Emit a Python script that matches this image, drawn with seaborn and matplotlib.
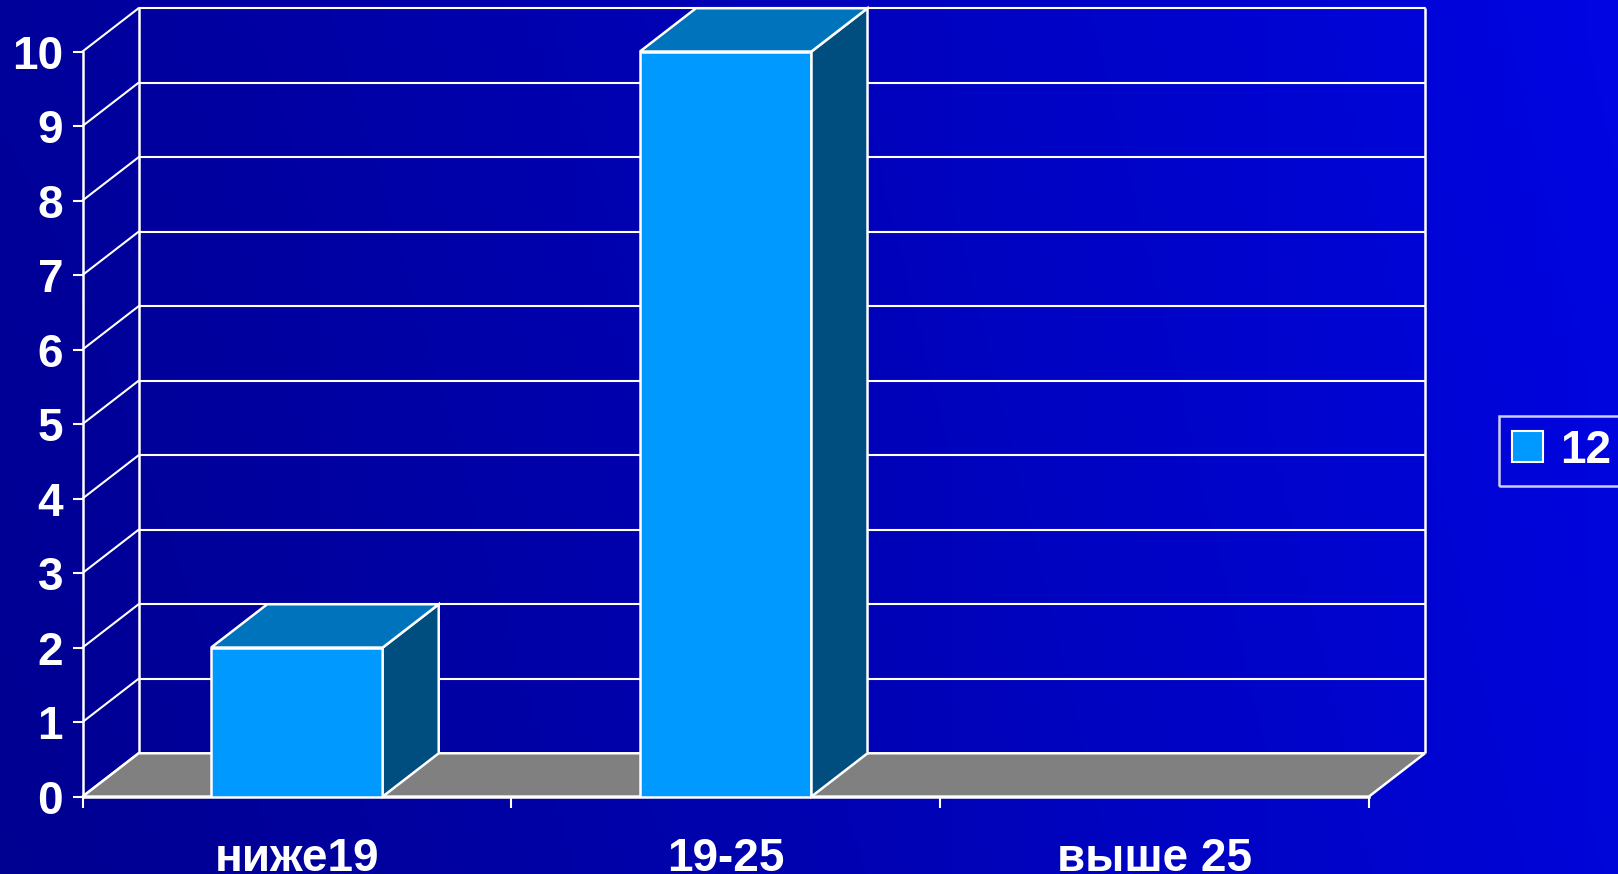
import numpy as np
import matplotlib
matplotlib.use("Agg")
import matplotlib.pyplot as plt
import seaborn as sns
from matplotlib.patches import Polygon, Patch

# data
categories = ["ниже19", "19-25", "выше 25"]
values = [2, 10, 0]
series_name = "12"
y_ticks = list(range(0, 11))

# colours
front_col = "#0099FF"
top_col = "#0073BD"
side_col = "#004D80"
floor_col = "#808080"

# depth of the pseudo-3D box, in data units
DX, DY = 0.1307, 0.581
BAR_W = 0.4

sns.set_theme(style="white")
plt.rcParams["font.family"] = ["Liberation Sans", "DejaVu Sans"]
plt.rcParams["font.weight"] = "bold"

fig = plt.figure(figsize=(16.18, 8.74), dpi=100)

# blue gradient background
bg = fig.add_axes([0, 0, 1, 1], zorder=-5)
gx, gy = np.meshgrid(np.linspace(0, 1, 400), np.linspace(0, 1, 200))
blue = 0.57 + 0.28 * gx ** 1.2 + 0.04 * gy
img = np.dstack([np.zeros_like(blue), 0.02 * gx, np.clip(blue, 0, 1)])
bg.imshow(img, aspect="auto", extent=[0, 1, 0, 1], origin="lower")
bg.axis("off")

ax = fig.add_axes([0.051, 0.0886, 0.8297, 0.902])
ax.set_facecolor("none")

# floor
floor = Polygon([(-0.5, 0), (2.5, 0), (2.5 + DX, DY), (-0.5 + DX, DY)],
                closed=True, facecolor=floor_col, edgecolor="white",
                linewidth=1.8, zorder=1, clip_on=False)
ax.add_patch(floor)

# back wall grid + side wall diagonals
for k in y_ticks[1:]:
    ax.plot([-0.5 + DX, 2.5 + DX], [k + DY, k + DY], color="white",
            lw=1.5, zorder=1.5, clip_on=False)
for k in y_ticks:
    ax.plot([-0.5, -0.5 + DX], [k, k + DY], color="white",
            lw=1.5, zorder=1.5, clip_on=False)
ax.vlines([-0.5 + DX, 2.5 + DX], DY, y_ticks[-1] + DY, color="white",
          lw=1.8, zorder=1.5, clip_on=False)

# front faces
sns.barplot(x=categories, y=values, width=BAR_W, color=front_col,
            saturation=1, edgecolor="white", linewidth=1.8, ax=ax, zorder=3)

# top and side faces
for i, v in enumerate(values):
    if v <= 0:
        continue
    x0, x1 = i - BAR_W / 2, i + BAR_W / 2
    top = Polygon([(x0, v), (x1, v), (x1 + DX, v + DY), (x0 + DX, v + DY)],
                  facecolor=top_col, edgecolor="white", lw=1.8, zorder=3,
                  clip_on=False)
    side = Polygon([(x1, 0), (x1 + DX, DY), (x1 + DX, v + DY), (x1, v)],
                   facecolor=side_col, edgecolor="white", lw=1.8, zorder=3,
                   clip_on=False)
    ax.add_patch(side)
    ax.add_patch(top)

ax.set_xlim(-0.5, 2.5 + DX)
ax.set_ylim(0, y_ticks[-1] + DY)
ax.grid(False)

for s in ["top", "right"]:
    ax.spines[s].set_visible(False)
ax.spines["left"].set_color("white")
ax.spines["left"].set_linewidth(1.8)
ax.spines["left"].set_bounds(0, 10)
ax.spines["bottom"].set_color("white")
ax.spines["bottom"].set_linewidth(1.8)
ax.spines["bottom"].set_bounds(-0.5, 2.5)

ax.set_yticks(y_ticks)
ax.set_yticklabels([str(t) for t in y_ticks])
ax.tick_params(axis="y", colors="white", length=7, width=1.5,
               direction="out", pad=7, labelsize=33, left=True)
ax.set_xticks([-0.5, 0.5, 1.5, 2.5])
ax.set_xticklabels([])
ax.set_xticks(range(len(categories)), minor=True)
ax.set_xticklabels(categories, minor=True)
ax.tick_params(axis="x", which="major", colors="white", length=8,
               width=1.5, direction="out", bottom=True)
ax.tick_params(axis="x", which="minor", length=0, pad=29, labelsize=33,
               labelcolor="white")
ax.set_xlabel("")
ax.set_ylabel("")

handles = [Patch(facecolor=front_col, edgecolor="white", linewidth=1.5,
                 label=series_name)]
leg = fig.legend(handles=handles, loc="upper left",
                 bbox_to_anchor=(0.9267, 0.524), borderaxespad=0,
                 fontsize=33, frameon=True, fancybox=False,
                 handlelength=0.67, handleheight=0.67, handletextpad=0.37,
                 borderpad=0.28)
leg.get_frame().set_facecolor("none")
leg.get_frame().set_edgecolor("white")
leg.get_frame().set_linewidth(1.8)
for t in leg.get_texts():
    t.set_color("white")

fig.savefig("out.png", dpi=100)
